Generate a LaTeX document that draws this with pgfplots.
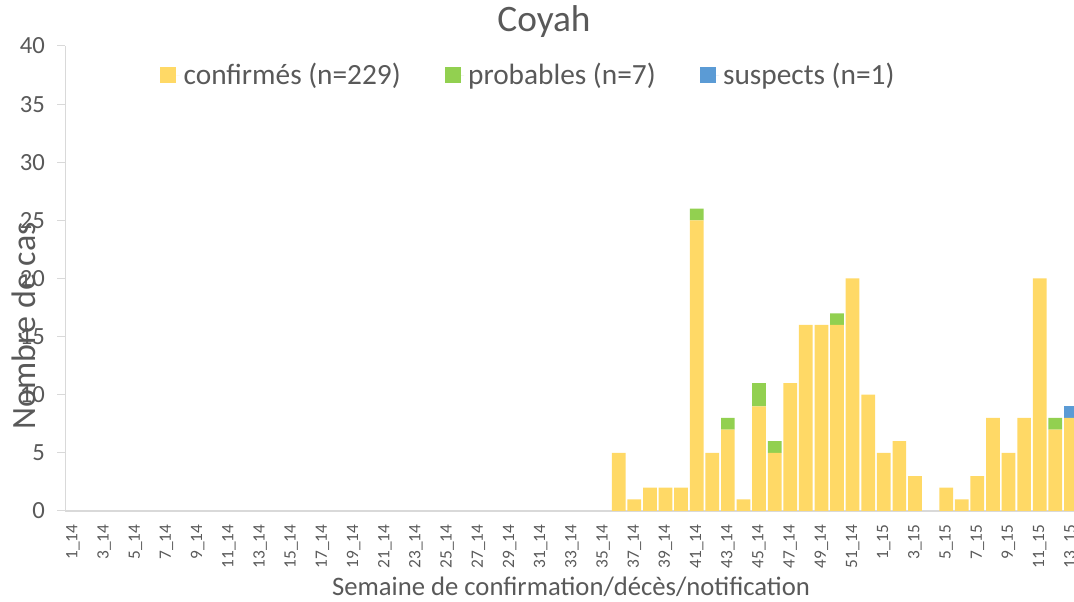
\documentclass[border=0pt]{standalone}
\usepackage{pgfplots}
\usepackage{pgfplotstable}
\pgfplotsset{compat=1.18}
\usepackage{fontspec}
\setmainfont{Carlito}

\definecolor{conf}{HTML}{FFD966}
\definecolor{prob}{HTML}{92D050}
\definecolor{susp}{HTML}{5B9BD5}
\definecolor{txt}{HTML}{595959}
\definecolor{axl}{HTML}{D9D9D9}

% weeks 1_14 .. 52_14 = 1..52, 1_15 .. 13_15 = 53..65
\pgfplotstableread{
idx conf prob susp
1 0 0 0
2 0 0 0
3 0 0 0
4 0 0 0
5 0 0 0
6 0 0 0
7 0 0 0
8 0 0 0
9 0 0 0
10 0 0 0
11 0 0 0
12 0 0 0
13 0 0 0
14 0 0 0
15 0 0 0
16 0 0 0
17 0 0 0
18 0 0 0
19 0 0 0
20 0 0 0
21 0 0 0
22 0 0 0
23 0 0 0
24 0 0 0
25 0 0 0
26 0 0 0
27 0 0 0
28 0 0 0
29 0 0 0
30 0 0 0
31 0 0 0
32 0 0 0
33 0 0 0
34 0 0 0
35 0 0 0
36 5 0 0
37 1 0 0
38 2 0 0
39 2 0 0
40 2 0 0
41 25 1 0
42 5 0 0
43 7 1 0
44 1 0 0
45 9 2 0
46 5 1 0
47 11 0 0
48 16 0 0
49 16 0 0
50 16 1 0
51 20 0 0
52 10 0 0
53 5 0 0
54 6 0 0
55 3 0 0
56 0 0 0
57 2 0 0
58 1 0 0
59 3 0 0
60 8 0 0
61 5 0 0
62 8 0 0
63 20 0 0
64 7 1 0
65 8 0 1
}\weeks

\begin{document}
\begin{tikzpicture}
\begin{axis}[
  scale only axis,
  width=756.6pt, height=348.75pt,
  ybar stacked, bar width=0.88,
  xmin=0.5, xmax=65.2,
  ymin=0, ymax=40,
  enlargelimits=false,
  ytick={0,5,...,40},
  xtick={1,3,...,65},
  xticklabels={1\_14,3\_14,5\_14,7\_14,9\_14,11\_14,13\_14,15\_14,17\_14,19\_14,21\_14,23\_14,25\_14,27\_14,29\_14,31\_14,33\_14,35\_14,37\_14,39\_14,41\_14,43\_14,45\_14,47\_14,49\_14,51\_14,1\_15,3\_15,5\_15,7\_15,9\_15,11\_15,13\_15},
  axis x line*=bottom, axis y line*=left,
  x axis line style={draw=axl, line width=1.5pt, -},
  y axis line style={draw=axl, line width=0.75pt, -},
  xtick style={draw=none},
  ytick style={draw=axl, line width=0.75pt},
  tick align=outside, major tick length=6pt,
  /pgf/number format/assume math mode=true,
  yticklabel style={font=\fontsize{18.5}{20}\selectfont, text=txt, inner xsep=0pt, xshift=-9pt},
  xticklabel style={font=\fontsize{13}{14}\selectfont, text=txt, anchor=east, inner sep=0pt, yshift=-4pt},
  xticklabel style={rotate=90},
  title={Coyah},
  title style={font=\fontsize{28}{30}\selectfont, text=txt, at={(rel axis cs:0.4746,1.0345)}, anchor=center},
  xlabel={Semaine de confirmation/décès/notification},
  xlabel style={font=\fontsize{20}{22}\selectfont, text=txt, at={(rel axis cs:0.5014,-0.163)}, anchor=center},
  ylabel={Nombre de cas},
  ylabel style={font=\fontsize{25.5}{28}\selectfont, text=txt, at={(rel axis cs:0,0.398)}, anchor=center, yshift=31pt},
  legend columns=3,
  legend style={draw=none, fill=none, inner sep=0pt,
    at={(rel axis cs:0.094,0.9376)}, anchor=west,
    font=\fontsize{22}{24}\selectfont, text=txt,
    nodes={inner xsep=3pt, inner ysep=0pt},
    /tikz/every even column/.append style={column sep=30pt}},
  legend image code/.code={\fill[#1] (0pt,-6pt) rectangle (12pt,6pt); \path (12pt,0pt) -- (14.5pt,0pt);},
]
\addplot[fill=conf, draw=none] table[x=idx, y=conf] {\weeks};
\addplot[fill=prob, draw=none] table[x=idx, y=prob] {\weeks};
\addplot[fill=susp, draw=none] table[x=idx, y=susp] {\weeks};
\legend{confirmés (n=229), probables (n=7), suspects (n=1)}
\end{axis}
\pgfresetboundingbox
\useasboundingbox (-48.9pt,-68.25pt) rectangle (756.6pt,383.25pt);
\end{tikzpicture}
\end{document}
